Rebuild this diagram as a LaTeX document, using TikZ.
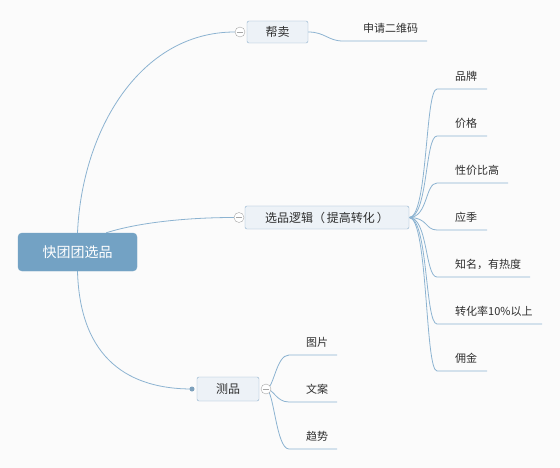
\documentclass[tikz,border=0pt]{standalone}
\usepackage{fontspec}
\setmainfont{Noto Sans CJK SC}
\usetikzlibrary{backgrounds}

\definecolor{linkcol}{HTML}{8CB3D1}
\definecolor{boxline}{HTML}{8DB0CC}
\definecolor{boxfill}{HTML}{EDF2F7}
\definecolor{rootfill}{HTML}{73A2C4}
\definecolor{txtcol}{HTML}{2E2E2E}
\definecolor{bgcol}{HTML}{FBFBFB}

\tikzset{
    link/.style={linkcol, line width=0.8pt},
    rootbox/.style={fill=rootfill, draw=rootfill, rounded corners=4pt, text=white,
        minimum width=119pt, minimum height=38pt, font=\fontsize{14}{16}\selectfont},
    subbox/.style={fill=boxfill, draw=boxline, rounded corners=2pt, text=txtcol,
        minimum height=23pt, font=\fontsize{12}{14}\selectfont},
    leaf/.style={anchor=west, text=txtcol, inner sep=0pt, font=\fontsize{11}{13}\selectfont},
    fold/.style={circle, draw=gray!70, fill=white, minimum size=10pt, inner sep=0pt,
        path picture={\draw[gray!70] ([xshift=-3pt]path picture bounding box.center)
            -- ([xshift=3pt]path picture bounding box.center);}},
    dot/.style={circle, fill=linkcol!90!black, minimum size=5pt, inner sep=0pt}
}

\begin{document}
\begin{tikzpicture}[x=1pt, y=-1pt]
    \useasboundingbox (0,0) rectangle (560,468);

    % main boxes
    \node[rootbox] (root) at (77.5,252) {快团团选品};
    \node[subbox, minimum width=61pt, minimum height=22pt] (bm) at (277.5,32) {帮卖};
    \node[subbox, minimum width=164pt] (lj) at (327,217.5) {选品逻辑（\,提高转化\,）};
    \node[subbox, minimum width=62pt, minimum height=24pt] (cp) at (228,389) {测品};

    \node[fold] (bm-f) at (240,32) {};
    \node[fold] (lj-f) at (239,217.5) {};
    \node[fold] (cp-f) at (266,389) {};
    \node[dot] (cp-d) at (192,389) {};

    \begin{scope}[on background layer]
        \fill[bgcol] (0,0) rectangle (560,468);

        \draw[link] (root.north) .. controls (82,130) and (140,32) .. (bm-f.west);
        \draw[link] (root.north east) ++(-31,0) .. controls (140,222) and (190,217.5) .. (lj-f.west);
        \draw[link] (root.south) .. controls (80,360) and (130,389) .. (cp-d.center);

        % 帮卖
        \node[leaf] (ewm) at (363,28) {申请二维码};
        \coordinate (ewm-a) at (343,41);
        \coordinate (ewm-b) at (427,41);
        \draw[link] (bm.east) .. controls (325,32) and (328,41) .. (ewm-a) -- (ewm-b);

        % 选品逻辑
        \foreach \name/\txt/\y/\xe in {pp/品牌/89/487, jg/价格/136/487, xjb/性价比高/183/508,
                yj/应季/230/487, zm/知名，有热度/277/530, zhl/转化率10\%以上/324/542,
                yong/佣金/371/487} {
            \node[leaf] (\name) at (455,\y-13) {\txt};
            \coordinate (\name-a) at (437,\y);
            \coordinate (\name-b) at (\xe,\y);
            \draw[link] (lj.east) .. controls (428,217.5) and (425,\y) .. (\name-a) -- (\name-b);
        }

        % 测品
        \foreach \name/\txt/\y in {tp/图片/355, wa/文案/402, qs/趋势/449} {
            \node[leaf] (\name) at (306,\y-13) {\txt};
            \coordinate (\name-a) at (289,\y);
            \coordinate (\name-b) at (337,\y);
            \draw[link] (cp-f.center) .. controls (274,389) and (276,\y) .. (\name-a) -- (\name-b);
        }
    \end{scope}
\end{tikzpicture}
\end{document}
